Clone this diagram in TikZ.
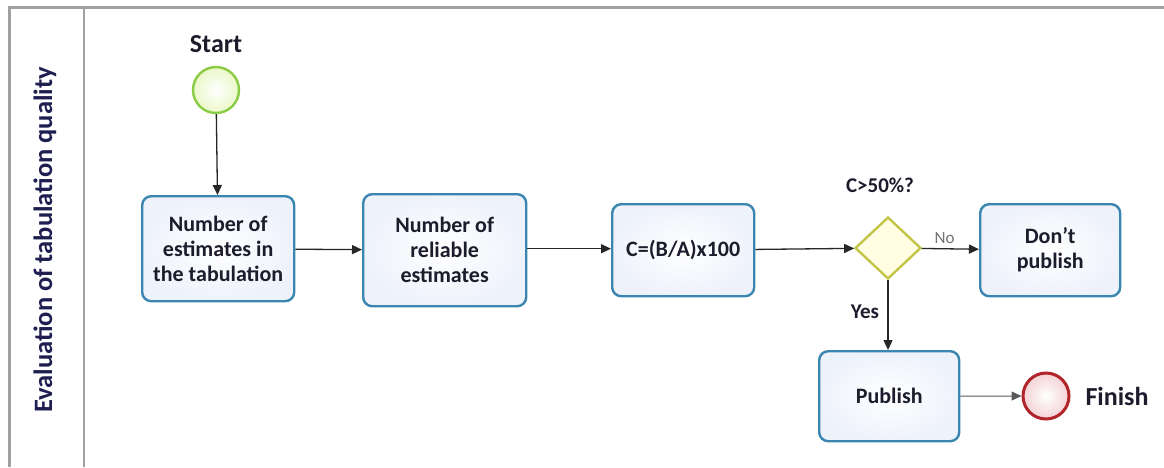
\documentclass[tikz,border=0pt]{standalone}
\usepackage{fontspec}
\setmainfont{Carlito}
\usetikzlibrary{arrows.meta,shapes.geometric}
\definecolor{lanegray}{HTML}{A0A0A0}
\definecolor{boxblue}{HTML}{3A86B0}
\definecolor{boxfill}{HTML}{EEF2FB}
\definecolor{txt}{HTML}{1C1C2C}
\definecolor{lanetxt}{HTML}{1E1E50}
\definecolor{startfill}{HTML}{EAF8C8}
\definecolor{startline}{HTML}{8CCB45}
\definecolor{dfill}{HTML}{FFFDE2}
\definecolor{dline}{HTML}{C4C548}
\definecolor{endline}{HTML}{B0242A}
\definecolor{endfill}{HTML}{F4D2D4}
\tikzset{
  task/.style={draw=boxblue, line width=2.4pt, rounded corners=9pt,
    inner color=white, outer color=boxfill, anchor=north west},
  tasktext/.style={font=\fontsize{22}{25}\selectfont\bfseries, text=txt, align=center},
  event/.style={circle, minimum size=46pt, inner sep=0pt},
  flow/.style={draw=black!85, line width=1.3pt, -{Triangle[length=10pt,width=9pt]}},
  lbl/.style={font=\fontsize{21}{24}\selectfont\bfseries, text=txt},
}
\begin{document}
\begin{tikzpicture}[x=1pt,y=-1pt]
\useasboundingbox (0,0) rectangle (1164,467);
\fill[white] (0,0) rectangle (1164,467);
% pool frame
\draw[lanegray, line width=3pt] (9,467) -- (9,7) -- (1164,7);
\draw[lanegray, line width=2.5pt] (84,9) -- (84,467);
\node[rotate=90, font=\fontsize{26.5}{29}\selectfont\bfseries, text=lanetxt] (lane) at (45,240) {Evaluation of tabulation quality};
% events
\node[event, draw=startline, line width=2.4pt, inner color=white, outer color=startfill] (start) at (216,90) {};
\node[lbl, font=\fontsize{26}{28}\selectfont\bfseries] (startl) at (216,44) {Start};
% tasks
\node[task, minimum width=152pt, minimum height=105pt] (b1) at (141,195) {};
\node[tasktext] (t1) at (b1.center) {Number of\\estimates in\\the tabulation};
\node[task, minimum width=163pt, minimum height=112pt] (b2) at (362,193) {};
\node[tasktext] (t2) at (b2.center) {Number of\\reliable\\estimates};
\node[task, minimum width=142pt, minimum height=92pt] (b3) at (611,203) {};
\node[tasktext] (t3) at (b3.center) {C=(B/A)x100};
\node[diamond, draw=dline, line width=2.4pt, fill=dfill, minimum width=66pt, minimum height=62pt, inner sep=0pt] (d) at (888,248) {};
\node[lbl] (dl) at (880,185) {C>50\%?};
\node[task, minimum width=140pt, minimum height=92pt] (b4) at (979,203) {};
\node[tasktext] (t4) at (b4.center) {Don't\\publish};
\node[task, minimum width=140pt, minimum height=90pt] (b5) at (818,350) {};
\node[tasktext] (t5) at (b5.center) {Publish};
\node[event, draw=endline, line width=3pt, inner color=white, outer color=endfill] (fin) at (1046,396) {};
\node[lbl, font=\fontsize{26}{28}\selectfont\bfseries, anchor=west] (finl) at (1082,396) {Finish};
% flows
\draw[flow] (start) -- (b1);
\draw[flow] (b1) -- (b2);
\draw[flow] (b2.east |- b1.east) -- (b3.west |- b1.east);
\draw[flow] (b3) -- (d);
\draw[flow] (d) -- node[pos=0.4, above=1pt, font=\fontsize{17}{19}\selectfont, text=black!55] {No} (b4);
\draw[flow] (d) -- node[pos=0.45, left=5pt, lbl] {Yes} (b5.north -| d);
\draw[flow, draw=black!65, line width=1pt] (b5) -- (fin);
\end{tikzpicture}
\end{document}
